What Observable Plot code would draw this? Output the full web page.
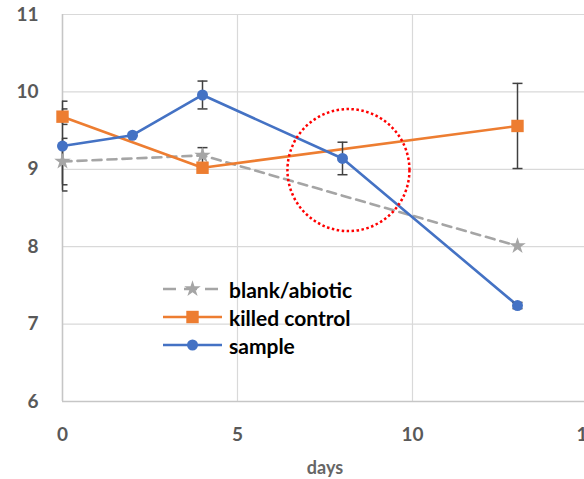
<!DOCTYPE html>
<html><head><meta charset="utf-8">
<script src="https://cdn.jsdelivr.net/npm/d3@7"></script>
<script src="https://cdn.jsdelivr.net/npm/@observablehq/plot@0.6"></script>
<style>
body{margin:0;background:#fff;}
#wrap{position:relative;width:584px;height:479px;overflow:hidden;}
#legend{position:absolute;left:163px;top:275px;font-family:Lato, sans-serif;font-weight:bold;font-size:21px;color:#000;}
.row{display:flex;align-items:center;height:28px;}
.row svg{margin-right:6px;display:block;}
</style></head><body><div id="wrap"><div id="legend"></div></div>
<script>
const seriesNames = ["blank/abiotic", "killed control", "sample"];
const seriesColors = ["#A5A5A5", "#ED7D31", "#4472C4"];
const seriesSymbols = ["star", "square", "circle"];
const seriesDash = ["9,6", null, null];

const blankDays = [0, 4, 13];
const blankValues = [9.10, 9.18, 8.01];
const blankErrors = [0.3, 0.1, 0];

const killedDays = [0, 4, 13];
const killedValues = [9.68, 9.02, 9.56];
const killedErrors = [0.1, 0, 0.55];

const sampleDays = [0, 2, 4, 8, 13];
const sampleValues = [9.30, 9.44, 9.96, 9.14, 7.24];
const sampleErrors = [0.58, 0, 0.18, 0.21, 0.04];

const xTicks = [0, 5, 10, 15];
const yTicks = [6, 7, 8, 9, 10, 11];
const xLabel = "days";

const highlightDay = [8.17];
const highlightValue = [8.99];

const allDays = [blankDays, killedDays, sampleDays];
const allValues = [blankValues, killedValues, sampleValues];
const allErrors = [blankErrors, killedErrors, sampleErrors];

const series = seriesNames.map((name, i) => ({
  name, color: seriesColors[i], symbol: seriesSymbols[i], dash: seriesDash[i],
  rows: allDays[i].map((d, j) => ({series: name, day: d, value: allValues[i][j], err: allErrors[i][j]}))
}));
const errRows = series.flatMap(s => s.rows.filter(r => r.err > 0));

const capSymbol = {
  draw(context, size) {
    const w = Math.sqrt(size / Math.PI);
    context.moveTo(-w, 0);
    context.lineTo(w, 0);
  }
};

const symSize = {star: 5.2, square: 7, circle: 5.5};

const marks = [
  Plot.gridX(xTicks, {stroke: "#d9d9d9", strokeOpacity: 1, strokeWidth: 1.2}),
  Plot.gridY(yTicks, {stroke: "#d9d9d9", strokeOpacity: 1, strokeWidth: 1.2}),
  Plot.ruleX([0], {stroke: "#c6c6c6", strokeWidth: 1.5}),
  Plot.ruleY([6], {stroke: "#c6c6c6", strokeWidth: 1.5}),
  ...series.map(s => Plot.line(s.rows, {x: "day", y: "value", stroke: s.color, strokeWidth: 2.6, strokeDasharray: s.dash})),
  Plot.ruleX(errRows, {x: "day", y1: d => d.value - d.err, y2: d => d.value + d.err, stroke: "#404040", strokeWidth: 1.5}),
  Plot.dot(errRows, {x: "day", y: d => d.value - d.err, symbol: capSymbol, r: 5, stroke: "#404040", strokeWidth: 1.5, fill: "none", clip: true}),
  Plot.dot(errRows, {x: "day", y: d => d.value + d.err, symbol: capSymbol, r: 5, stroke: "#404040", strokeWidth: 1.5, fill: "none", clip: true}),
  ...series.map(s => Plot.dot(s.rows, {x: "day", y: "value", symbol: s.symbol, r: symSize[s.symbol], fill: s.color, stroke: "none"})),
  Plot.dot(highlightDay.map((d, i) => ({day: d, value: highlightValue[i]})), {x: "day", y: "value", r: 61, stroke: "#ff0000", strokeWidth: 2.5, strokeDasharray: "2.5,2.5", fill: "none"}),
  Plot.axisX(xTicks, {tickSize: 0, tickPadding: 26, fontSize: 19, fontWeight: "bold", tickFormat: "d", label: null}),
  Plot.axisY(yTicks, {tickSize: 0, tickPadding: 24, fontSize: 19, fontWeight: "bold", tickFormat: "d", label: null}),
  Plot.text([xLabel], {frameAnchor: "bottom", dy: 67, fontSize: 18, fontWeight: "bold", fill: "#666666", lineAnchor: "middle"})
];

const chart = Plot.plot({
  width: 584, height: 479,
  marginLeft: 62, marginRight: -3, marginTop: 14, marginBottom: 78,
  x: {domain: [0, 15]},
  y: {domain: [6, 11]},
  style: {fontFamily: "Lato, sans-serif", color: "#595959", background: "#fff", overflow: "hidden"},
  marks
});
document.getElementById("wrap").prepend(chart);

const legend = document.getElementById("legend");
series.forEach(s => {
  const row = document.createElement("div");
  row.className = "row";
  const svg = d3.create("svg").attr("width", 60).attr("height", 28);
  svg.append("line").attr("x1", 0).attr("x2", 59).attr("y1", 14).attr("y2", 14)
    .attr("stroke", s.color).attr("stroke-width", 2.6).attr("stroke-dasharray", s.dash ? "13,8" : null);
  const r = symSize[s.symbol];
  const sym = {star: d3.symbolStar, square: d3.symbolSquare, circle: d3.symbolCircle}[s.symbol];
  svg.append("path").attr("transform", "translate(29.5,14)").attr("d", d3.symbol(sym, Math.PI * r * r)()).attr("fill", s.color);
  row.appendChild(svg.node());
  const span = document.createElement("span");
  span.textContent = s.name;
  row.appendChild(span);
  legend.appendChild(row);
});
</script></body></html>
